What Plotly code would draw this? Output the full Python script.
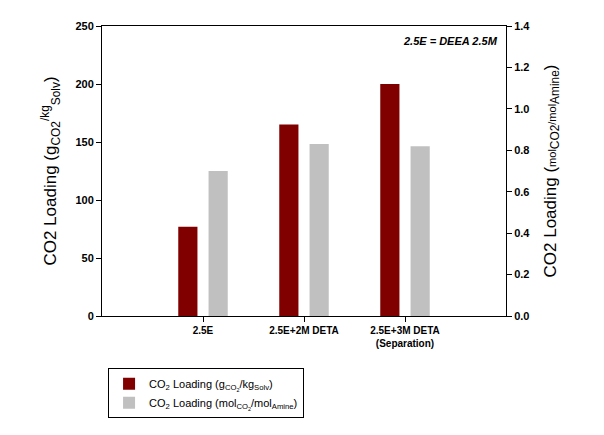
import plotly.graph_objects as go

# Data
categories = ['2.5E', '2.5E+2M DETA', '2.5E+3M DETA<br>(Separation)']
cat_pos = [1, 2, 3]
loading_g_per_kg = [77, 165, 200]          # left axis
loading_mol_per_mol = [0.70, 0.83, 0.82]    # right axis

fig = go.Figure()

fig.add_trace(go.Bar(x=cat_pos, y=loading_g_per_kg, width=0.19, offset=-0.245,
                     marker=dict(color='#800000', line=dict(width=0)),
                     name='CO<sub>2</sub> Loading (g<sub>CO<sub>2</sub></sub>/kg<sub>Solv</sub>)',
                     yaxis='y'))
fig.add_trace(go.Bar(x=cat_pos, y=loading_mol_per_mol, width=0.19, offset=0.055,
                     marker=dict(color='#c0c0c0', line=dict(width=0)),
                     name='CO<sub>2</sub> Loading (mol<sub>CO<sub>2</sub></sub>/mol<sub>Amine</sub>)',
                     yaxis='y2'))

axis_font = dict(family='Liberation Sans, Arial', size=11, color='black')
small = '<span style="font-size:11px">%s</span>'

# page body has an 8px margin, so the figure is a bit smaller than the window
fig.update_layout(
    width=596, height=427,
    margin=dict(l=94, r=98, t=18, b=119),
    plot_bgcolor='white', paper_bgcolor='white',
    font=dict(family='Liberation Sans, Arial', color='black'),
    barmode='overlay',
    showlegend=True,
    xaxis=dict(range=[0, 4], tickvals=cat_pos, ticktext=['<b>%s</b>' % c for c in categories],
               tickfont=dict(family='Liberation Sans, Arial', size=10, color='black'),
               ticks='outside', ticklen=5, tickcolor='black',
               showline=True, linecolor='black', linewidth=1, mirror=True,
               showgrid=False, zeroline=False),
    yaxis=dict(range=[0, 250], dtick=50, tickfont=axis_font,
               tickprefix='<b>', ticksuffix='</b>',
               ticks='outside', ticklen=5, tickcolor='black',
               showline=True, linecolor='black', linewidth=1,
               showgrid=False, zeroline=False,
               title=dict(text='CO2 Loading (g<sub>CO2</sub><sup>/kg</sup><sub>Solv</sub>)',
                          font=dict(size=17), standoff=14)),
    yaxis2=dict(range=[0, 1.4], dtick=0.2, tickformat='.1f', overlaying='y', side='right',
                tickfont=axis_font, tickprefix='<b>', ticksuffix='</b>',
                ticks='outside', ticklen=5, tickcolor='black',
                showline=True, linecolor='black', linewidth=1,
                showgrid=False, zeroline=False,
                title=dict(text='CO2 Loading (' + small % 'mol' + '<sub>CO2</sub>'
                                + small % '/mol' + '<sub>Amine</sub>)',
                           font=dict(size=17), standoff=14)),
    legend=dict(x=0.015, y=-0.18, xanchor='left', yanchor='top',
                bordercolor='black', borderwidth=1, bgcolor='white',
                font=dict(size=11), tracegroupgap=0,
                itemwidth=30),
    annotations=[dict(text='<b><i>2.5E = DEEA 2.5M</i></b>', x=0.985, y=0.95,
                      xref='paper', yref='paper', xanchor='right', yanchor='middle',
                      showarrow=False, font=dict(size=11))],
)

fig.write_html('out.html')
